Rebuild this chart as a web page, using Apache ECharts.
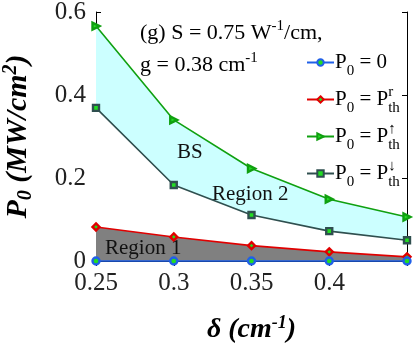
<!DOCTYPE html>
<html>
<head>
<meta charset="utf-8">
<script src="https://cdn.jsdelivr.net/npm/echarts@6/dist/echarts.min.js"></script>
<style>
	html, body { margin: 0; padding: 0; background: #fff; }
	#chart { width: 415px; height: 347px; }
</style>
</head>
<body>
<div id="chart"></div>
<script>
	// delta (cm^-1)
	let deltas = [0.25, 0.3, 0.35, 0.4, 0.45];
	// P0 = 0
	let pZero = [0, 0, 0, 0, 0];
	// P0 = P_th^r
	let pThR = [0.082, 0.058, 0.037, 0.022, 0.010];
	// P0 = P_th^up
	let pThUp = [0.566, 0.340, 0.223, 0.149, 0.106];
	// P0 = P_th^down
	let pThDown = [0.369, 0.183, 0.111, 0.072, 0.050];
	let xTicks = ['0.25', '0.3', '0.35', '0.4'];
	let yTicks = ['0', '0.2', '0.4', '0.6'];

	let serif = 'Liberation Serif';
	let names = ['P0 = 0', 'P0 = Pr', 'P0 = Pup', 'P0 = Pdown'];
	let legendText = {
		'P0 = 0': '{t|P}{sub|0}{t| = 0}',
		'P0 = Pr': '{t|P}{sub|0}{t| = P}{sup|r}{sub|th}',
		'P0 = Pup': '{t|P}{sub|0}{t| = P}{sup|\u2191}{sub|th}',
		'P0 = Pdown': '{t|P}{sub|0}{t| = P}{sup|\u2193}{sub|th}'
	};

	function pairs(ys){
		return deltas.map(function(x, i){ return [x, ys[i]]; });
	}

	function lineSeries(name, ys, color, symbol, z, extra){
		let s = {
			name: name,
			type: 'line',
			data: pairs(ys),
			symbol: symbol,
			symbolSize: 7,
			clip: false,
			z: z,
			lineStyle: { color: color, width: 1.6 },
			itemStyle: { color: '#22dd22', borderColor: color, borderWidth: 2.4 }
		};
		return Object.assign(s, extra || {});
	}

	let chart = echarts.init(document.getElementById('chart'));

	chart.setOption({
		animation: false,
		grid: { left: 96, right: 8, top: 12, bottom: 86, outerBoundsMode: 'none' },
		xAxis: [{
			type: 'value',
			min: 0.25, max: 0.45, interval: 0.05,
			position: 'bottom',
			name: '{d|\u03b4 (cm}{s|-1}{d|)}',
			nameLocation: 'middle',
			nameGap: 53,
			nameTextStyle: {
				rich: {
					d: { fontFamily: serif, fontSize: 28, fontWeight: 'bold', fontStyle: 'italic', color: '#000' },
					s: { fontFamily: serif, fontSize: 18, fontWeight: 'bold', fontStyle: 'italic', color: '#000', padding: [0, 0, 14, 0] }
				}
			},
			axisLine: { lineStyle: { color: '#000', width: 1 } },
			axisTick: { inside: true, length: 5, lineStyle: { color: '#000' } },
			splitLine: { show: false },
			axisLabel: {
				margin: 10,
				fontFamily: serif, fontSize: 25, color: '#222',
				formatter: function(v){
					let k = Math.round((v - 0.25) / 0.05);
					return xTicks[k] || '';
				}
			}
		}, {
			type: 'value',
			min: 0.25, max: 0.45, interval: 0.05,
			position: 'top',
			axisLine: { lineStyle: { color: '#000', width: 1 } },
			axisTick: { inside: true, length: 5, lineStyle: { color: '#000' } },
			splitLine: { show: false },
			axisLabel: { show: false }
		}],
		yAxis: [{
			type: 'value',
			min: 0, max: 0.6, interval: 0.2,
			position: 'left',
			name: '{d|P}{sb|0}{d| (MW/cm}{sp|2}{d|)}',
			nameLocation: 'middle',
			nameRotate: 90,
			nameGap: 60,
			nameTextStyle: {
				rich: {
					d: { fontFamily: serif, fontSize: 30, fontWeight: 'bold', fontStyle: 'italic', color: '#000' },
					sb: { fontFamily: serif, fontSize: 20, fontWeight: 'bold', fontStyle: 'italic', color: '#000', padding: [15, 0, 0, 0] },
					sp: { fontFamily: serif, fontSize: 20, fontWeight: 'bold', fontStyle: 'italic', color: '#000', padding: [0, 0, 15, 0] }
				}
			},
			axisLine: { show: true, lineStyle: { color: '#000', width: 1 } },
			axisTick: { show: true, inside: true, length: 5, lineStyle: { color: '#000' } },
			splitLine: { show: false },
			axisLabel: {
				margin: 10,
				fontFamily: serif, fontSize: 25, color: '#222',
				formatter: function(v){
					return yTicks[Math.round(v / 0.2)];
				}
			}
		}, {
			type: 'value',
			min: 0, max: 0.6, interval: 0.2,
			position: 'right',
			axisLine: { show: true, lineStyle: { color: '#000', width: 1 } },
			axisTick: { show: true, inside: true, length: 5, lineStyle: { color: '#000' } },
			splitLine: { show: false },
			axisLabel: { show: false }
		}],
		legend: {
			data: names,
			orient: 'vertical',
			left: 301,
			top: 47,
			itemWidth: 27,
			itemHeight: 8,
			itemGap: 6,
			selectedMode: false,
			formatter: function(name){ return legendText[name]; },
			textStyle: {
				padding: [0, 0, 0, -4],
				rich: {
					t: { fontFamily: serif, fontSize: 21, color: '#000' },
					sub: { fontFamily: serif, fontSize: 15, color: '#000', padding: [17, 0, 0, 0] },
					sup: { fontFamily: serif, fontSize: 15, color: '#000', width: 0, padding: [0, 0, 15, 0] }
				}
			}
		},
		graphic: [{
			type: 'text', left: 140, top: 19,
			style: {
				text: '{t|(g) S = 0.75 W}{s|-1}{t|/cm,}',
				rich: {
					t: { fontFamily: serif, fontSize: 22, fill: '#000' },
					s: { fontFamily: serif, fontSize: 15, fill: '#000', padding: [0, 0, 13, 0] }
				}
			}
		}, {
			type: 'text', left: 140, top: 51,
			style: {
				text: '{t|g = 0.38 cm}{s|-1}',
				rich: {
					t: { fontFamily: serif, fontSize: 22, fill: '#000' },
					s: { fontFamily: serif, fontSize: 15, fill: '#000', padding: [0, 0, 13, 0] }
				}
			}
		}, {
			type: 'text', left: 177, top: 142, z: 10,
			style: { text: 'BS', fontFamily: serif, fontSize: 21, fill: '#111' }
		}, {
			type: 'text', left: 212, top: 184, z: 10,
			style: { text: 'Region 2', fontFamily: serif, fontSize: 21, fill: '#111' }
		}, {
			type: 'text', left: 105, top: 238, z: 10,
			style: { text: 'Region 1', fontFamily: serif, fontSize: 21, fill: '#111' }
		}],
		series: [
			// fills nest: cyan under P_th^up, white under P_th^down, grey under P_th^r
			lineSeries(names[2], pThUp, '#10a010', 'triangle', 2, {
				symbolRotate: -90,
				areaStyle: { color: '#ccffff', opacity: 1 }
			}),
			lineSeries(names[3], pThDown, '#2f4f4f', 'rect', 3, {
				symbolSize: 6,
				areaStyle: { color: '#ffffff', opacity: 1 }
			}),
			lineSeries(names[1], pThR, '#e00000', 'diamond', 4, {
				areaStyle: { color: '#808080', opacity: 1 }
			}),
			lineSeries(names[0], pZero, '#2060e8', 'circle', 5)
		]
	});
</script>
</body>
</html>
